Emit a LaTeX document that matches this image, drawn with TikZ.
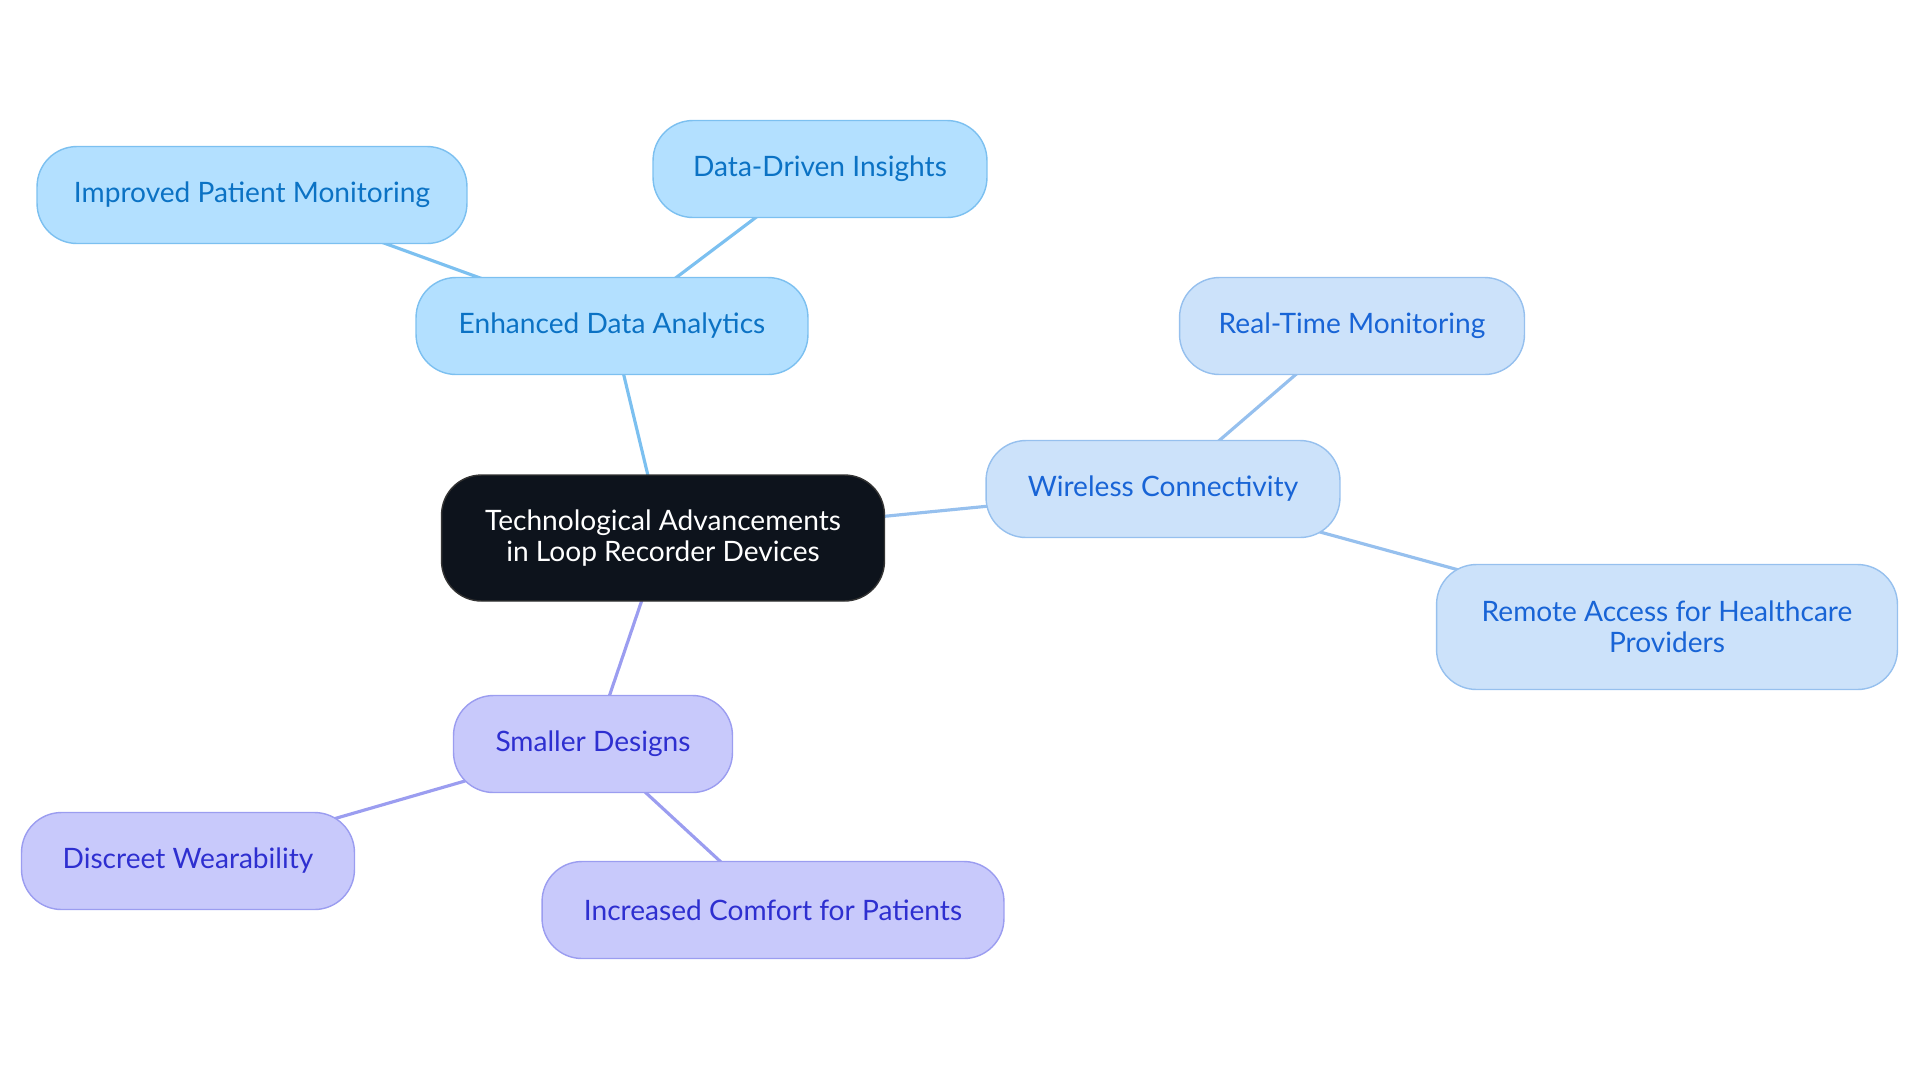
\documentclass[tikz,border=0pt]{standalone}
\usepackage{fontspec}
\setmainfont{Lato}
\usetikzlibrary{backgrounds}
\definecolor{skyfill}{HTML}{B3E0FF}
\definecolor{skyline}{HTML}{7CC0F0}
\definecolor{skytext}{HTML}{0B72C4}
\definecolor{palefill}{HTML}{CCE2FA}
\definecolor{paleline}{HTML}{96C0EE}
\definecolor{paletext}{HTML}{1864D6}
\definecolor{lavfill}{HTML}{C8C9FB}
\definecolor{lavline}{HTML}{9B9DF0}
\definecolor{lavtext}{HTML}{2E2FD0}
\definecolor{rootfill}{HTML}{0D131C}
\begin{document}
\begin{tikzpicture}[x=0.02cm,y=-0.02cm,
    topic/.style={rounded corners=0.8cm,line width=0.8pt,align=center,inner sep=0pt,
        minimum height=1.94cm,font=\fontsize{16}{17.5}\selectfont},
    sky/.style={topic,draw=skyline,fill=skyfill,text=skytext},
    pale/.style={topic,draw=paleline,fill=palefill,text=paletext},
    lav/.style={topic,draw=lavline,fill=lavfill,text=lavtext},
    link/.style={draw=#1,line width=1.8pt}]
    \useasboundingbox (0,0) rectangle (1920,1083);

    % Draw root and branch nodes
    \node[topic,draw=black!80,fill=rootfill,text=white,minimum width=8.86cm,minimum height=2.52cm]
        (root) at (663,538) {Technological Advancements\\in Loop Recorder Devices};
    \node[sky,minimum width=7.84cm] (analytics) at (612,326) {Enhanced Data Analytics};
    \node[sky,minimum width=8.6cm] (monitoring) at (252,195) {Improved Patient Monitoring};
    \node[sky,minimum width=6.68cm] (insights) at (820,169) {Data-Driven Insights};
    \node[pale,minimum width=7.08cm] (wireless) at (1163,489) {Wireless Connectivity};
    \node[pale,minimum width=6.9cm] (realtime) at (1352,326) {Real-Time Monitoring};
    \node[pale,minimum width=9.22cm,minimum height=2.5cm] (remote) at (1667,627) {Remote Access for Healthcare\\Providers};
    \node[lav,minimum width=5.58cm] (smaller) at (593,744) {Smaller Designs};
    \node[lav,minimum width=6.66cm] (discreet) at (188,861) {Discreet Wearability};
    \node[lav,minimum width=9.24cm] (comfort) at (773,910) {Increased Comfort for Patients};

    % Draw connectors behind the nodes
    \begin{scope}[on background layer]
        \draw[link=skyline] (root.center) -- (analytics.center);
        \draw[link=skyline] (analytics.center) -- (monitoring.center);
        \draw[link=skyline] (analytics.center) -- (insights.center);
        \draw[link=paleline] (root.center) -- (wireless.center);
        \draw[link=paleline] (wireless.center) -- (realtime.center);
        \draw[link=paleline] (wireless.center) -- (remote.center);
        \draw[link=lavline] (root.center) -- (smaller.center);
        \draw[link=lavline] (smaller.center) -- (discreet.center);
        \draw[link=lavline] (smaller.center) -- (comfort.center);
    \end{scope}
\end{tikzpicture}
\end{document}
